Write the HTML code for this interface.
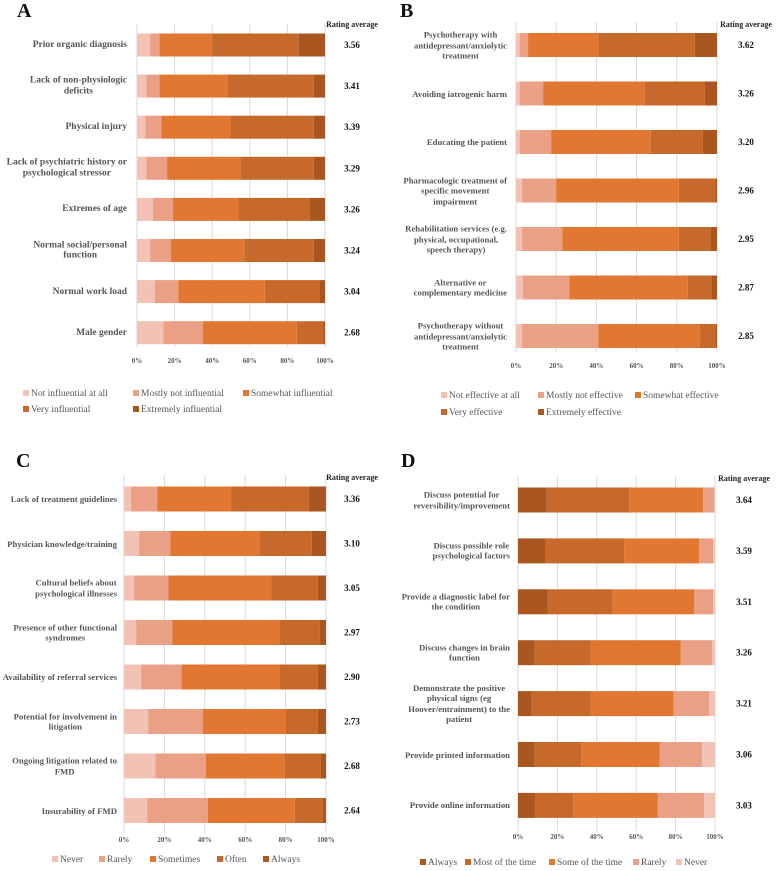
<!DOCTYPE html>
<html><head><meta charset="utf-8">
<style>
html,body{margin:0;padding:0;background:#fff;}
#wrap{position:relative;width:777px;height:871px;overflow:hidden;font-family:"Liberation Serif",serif;}
.lbl{position:absolute;text-align:center;font-weight:bold;font-size:9.5px;line-height:10.5px;color:#555;white-space:nowrap;transform:translateY(-50%);}
svg{position:absolute;left:0;top:0;}
</style></head>
<body>
<div id="wrap">
<svg id="chart" width="777" height="871"></svg>
</div>
<script>
// Panel A
const catsA=["Prior organic diagnosis","Lack of  non-physiologic\ndeficits","Physical injury","Lack of psychiatric history or\npsychological stressor","Extremes of age","Normal social/personal\nfunction","Normal work load","Male gender"];
const valsA=[[7,5,28,46,14],[5,7,36,46,6],[4.5,8.5,37,44,6],[5,11,39,39,6],[8.5,10.5,35,38,8],[7,11,39,37,6],[9.5,12.5,46,29,3],[14,21,50,14,1]];
const ratingA=["3.56","3.41","3.39","3.29","3.26","3.24","3.04","2.68"];
const legA=["Not influential at all","Mostly not influential","Somewhat influential","Very influential","Extremely influential"];
// Panel B
const catsB=["Psychotherapy with\nantidepressant/anxiolytic\ntreatment","Avoiding iatrogenic harm","Educating the patient","Pharmacologic treatment of\nspecific movement\nimpairment","Rehabilitation services (e.g.\nphysical, occupational,\nspeech therapy)","Alternative or\ncomplementary medicine","Psychotherapy without\nantidepressant/anxiolytic\ntreatment"];
const valsB=[[2,4,35,48,11],[2,11.5,50.5,30,6],[2,15.5,49.5,26,7],[3,17,61,18.5,0.5],[3,20,58,16,3],[3.5,23,59,12,2.5],[3,38,50.5,8,0.5]];
const ratingB=["3.62","3.26","3.20","2.96","2.95","2.87","2.85"];
const legB=["Not effective at all","Mostly not effective","Somewhat effective","Very effective","Extremely effective"];
// Panel C
const catsC=["Lack of treatment guidelines","Physician knowledge/training","Cultural beliefs about\npsychological illnesses","Presence of other functional\nsyndromes","Availability of referral services","Potential for involvement in\nlitigation","Ongoing litigation related to\nFMD","Insurability of FMD"];
const valsC=[[3.5,13,36.5,38.5,8.5],[7.5,15.5,44,26,7],[5,17,51,23,4],[6,18,53,20,3],[8.5,20,48.5,19,4],[12,27,41,16,4],[15.5,25,39,18,2.5],[11.5,30,43,14,1.5]];
const ratingC=["3.36","3.10","3.05","2.97","2.90","2.73","2.68","2.64"];
const legC=["Never","Rarely","Sometimes","Often","Always"];
// Panel D
const catsD=["Discuss potential for\nreversibility/improvement","Discuss possible role\npsychological factors","Provide a diagnostic label for\nthe condition","Discuss changes in brain\nfunction","Demonstrate the positive\nphysical signs (eg\nHoover/entrainment) to the\npatient","Provide printed information","Provide online information"];
const valsD=[[14.5,42,37.5,5.5,0.5],[14,40,38,7,1],[15,33,41.5,9.5,1],[8.5,28.5,45.5,16,1.5],[7,30,42,18,3],[8.5,23.5,40,21.5,6.5],[9,19,43,23.5,5.5]];
const ratingD=["3.64","3.59","3.51","3.26","3.21","3.06","3.03"];
const legD=["Always","Most of the time","Some of the time","Rarely","Never"];
const ticks=["0%","20%","40%","60%","80%","100%"];

const COL=["#f2c3b5","#e9a085","#e27732","#c8692c","#a9561f"];
const NS="http://www.w3.org/2000/svg";
const svg=document.getElementById('chart');
const wrap=document.getElementById('wrap');
function mk(tag,attrs,parent){const e=document.createElementNS(NS,tag);for(const k in attrs)e.setAttribute(k,attrs[k]);(parent||svg).appendChild(e);return e;}

const layouts={
A:{x0:137,x1:325,y0:45,sp:41.1,bh:23,gt:24,gb:347,ty:363,vx:352,hy:27,lx:17,ly:17,fs:9.5,off:10,leg:[[23,396],[133,396],[243,396],[23,412],[133,412]]},
B:{x0:516,x1:717,y0:45,sp:48.5,bh:24,gt:22,gb:352,ty:368,vx:746,hy:27,lx:400,ly:17,fs:8.7,off:9,leg:[[441,398],[538,398],[635,398],[441,415],[538,415]]},
C:{x0:124,x1:326,y0:499,sp:44.5,bh:25,gt:475,gb:833,ty:842,vx:352,hy:480,lx:16,ly:467,fs:8.7,off:7,leg:[[52,862],[99,862],[150,862],[217,862],[263,862]]},
D:{x0:518,x1:715,y0:500,sp:50.9,bh:25,gt:476,gb:831,ty:839,vx:744,hy:481,lx:401,ly:467,fs:8.7,off:8,leg:[[420,865],[465,865],[549,865],[633,865],[676,865]]}
};
const panels={A:[catsA,valsA,ratingA,legA,COL],B:[catsB,valsB,ratingB,legB,COL],C:[catsC,valsC,ratingC,legC,COL],D:[catsD,valsD,ratingD,legD,[COL[4],COL[3],COL[2],COL[1],COL[0]]]};

for(const key in panels){
  const [cats,vals,rat,leg,cols]=panels[key];const L=layouts[key];
  const g=mk('g',{});
  
  
  const xs=v=>L.x0+(L.x1-L.x0)*v/100;
  const ys=i=>L.y0+L.sp*i;
  const t=mk('text',{x:L.lx,y:L.ly,'font-size':20,'font-weight':'bold','font-family':'Liberation Serif,serif',fill:'#111'},g);
  t.textContent=key;
  
  
  ticks.forEach((tk,i)=>{
    const x=xs(i*20);
    const gl=mk('line',{x1:x,x2:x,y1:L.gt,y2:L.gb,stroke:'#d9d9d9','stroke-width':1},g);
    
    
    const tl=mk('text',{x:x,y:L.ty,'font-size':7,'font-weight':'bold','text-anchor':'middle',fill:'#555','font-family':'Liberation Serif,serif'},g);
    tl.textContent=tk;
    
    
  });
  const hd=mk('text',{x:L.vx,y:L.hy,'font-size':8,'font-weight':'bold','text-anchor':'middle',fill:'#222','font-family':'Liberation Serif,serif'},g);
  hd.textContent='Rating average';
  
  
  vals.forEach((row,i)=>{
    let acc=0;const y=ys(i);
    row.forEach((v,j)=>{
      const r=mk('rect',{x:xs(acc),y:y-L.bh/2,width:Math.max(0,xs(acc+v)-xs(acc)),height:L.bh,fill:cols[j]},g);
      
      
      acc+=v;
    });
    const rv=mk('text',{x:L.vx,y:y+3,'font-size':9,'font-weight':'bold','text-anchor':'middle',fill:'#111','font-family':'Liberation Serif,serif'},g);
    rv.textContent=rat[i];
    
    
    const d=document.createElement('div');
    d.className='lbl';
    
    
    d.style.right=(777-L.x0+L.off)+'px';d.style.top=y+'px';
    d.style.fontSize=L.fs+'px';
    d.innerHTML=cats[i].split('\n').join('<br>');
    wrap.appendChild(d);
  });
  leg.forEach((name,j)=>{
    const [lx,ly]=L.leg[j];
    const sw=mk('rect',{x:lx,y:ly-6,width:6,height:6,fill:cols[j]},g);
    
    
    const lt=mk('text',{x:lx+8,y:ly,'font-size':9.5,fill:'#555','font-family':'Liberation Serif,serif'},g);
    lt.textContent=name;
    
    
  });
}
</script>
</body></html>
